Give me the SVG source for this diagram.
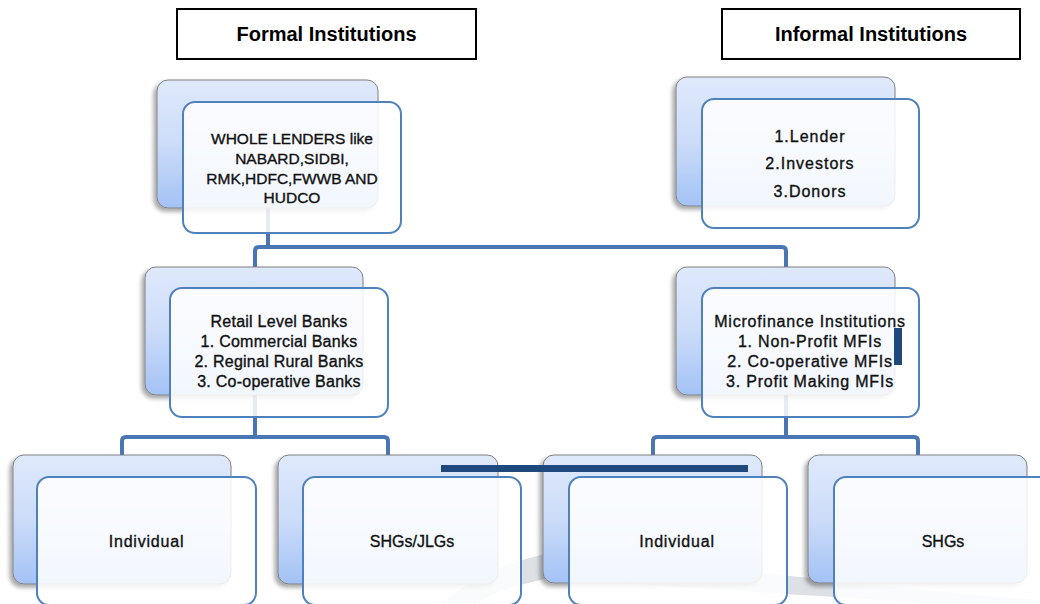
<svg xmlns="http://www.w3.org/2000/svg" width="1040" height="604" viewBox="0 0 1040 604">
<defs>
<linearGradient id="gb" x1="0" y1="0" x2="0" y2="1">
<stop offset="0" stop-color="#dfe9fb"/>
<stop offset="0.5" stop-color="#ccdcf9"/>
<stop offset="1" stop-color="#a3c2f5"/>
</linearGradient>
<filter id="sh" x="-10%" y="-10%" width="120%" height="125%">
<feDropShadow dx="-3" dy="3" stdDeviation="2" flood-color="#000" flood-opacity="0.35"/>
</filter>
<style>
.hdr{fill:#fff;stroke:#000;stroke-width:2}
.ht{font-family:"Liberation Sans",Arial,sans-serif;font-size:20px;font-weight:bold;fill:#000;text-anchor:middle}
.bk{fill:url(#gb);stroke:#808080;stroke-width:1;filter:url(#sh)}
.fr{fill:#fff;fill-opacity:0.86;stroke:#4f81bd;stroke-width:2}
.t{font-family:"Liberation Sans",Arial,sans-serif;font-size:16px;fill:#111;stroke:#111;stroke-width:0.35;text-anchor:middle}
.cn{fill:none;stroke:#4a77b3;stroke-width:4}
.bar{fill:#1f497d}
</style>
</defs>
<rect width="1040" height="604" fill="#fff"/>
<path d="M440,604 C470,580 505,562 550,553 L800,577 C880,586 960,594 1040,600 L1040,604 L930,604 C880,600 840,597 800,595 L550,578 C515,585 490,594 475,604 Z" fill="#dde1e6"/>

<g id="connectors">
<path class="cn" d="M268,208 V247"/>
<path class="cn" d="M255,267 V251 Q255,247 259,247 H782 Q786,247 786,251 V267"/>
<path class="cn" d="M255,395 V437"/>
<path class="cn" d="M122,455 V441 Q122,437 126,437 H384 Q388,437 388,441 V455"/>
<path class="cn" d="M786,395 V437"/>
<path class="cn" d="M653,455 V441 Q653,437 657,437 H914 Q918,437 918,441 V455"/>
</g>

<g id="formal-header">
<rect class="hdr" x="177" y="9" width="299" height="50"/>
<text class="ht" x="326.5" y="41">Formal Institutions</text>
</g>
<g id="informal-header">
<rect class="hdr" x="722" y="9" width="298" height="50"/>
<text class="ht" x="871" y="41">Informal Institutions</text>
</g>

<g id="whole-lenders">
<rect class="bk" x="157" y="80" width="221" height="128" rx="11"/>
<rect class="fr" x="183" y="102" width="218" height="131" rx="12"/>
<text class="t" x="292" y="144" style="font-size:15.5px">WHOLE LENDERS like</text>
<text class="t" x="292" y="164" style="font-size:15.5px">NABARD,SIDBI,</text>
<text class="t" x="292" y="184" style="font-size:15.5px">RMK,HDFC,FWWB AND</text>
<text class="t" x="292" y="203" style="font-size:15.5px">HUDCO</text>
</g>

<g id="informal-sources">
<rect class="bk" x="676" y="77" width="219" height="129" rx="11"/>
<rect class="fr" x="702" y="99" width="217" height="129" rx="12"/>
<text class="t" x="810" y="142" letter-spacing="1">1.Lender</text>
<text class="t" x="810" y="169" letter-spacing="1">2.Investors</text>
<text class="t" x="810" y="197" letter-spacing="1">3.Donors</text>
</g>

<g id="retail-banks">
<rect class="bk" x="145" y="267" width="218" height="128" rx="11"/>
<rect class="fr" x="170" y="288" width="218" height="129" rx="12"/>
<text class="t" x="279" y="327" letter-spacing="0.25">Retail Level Banks</text>
<text class="t" x="279" y="347" letter-spacing="0.25">1. Commercial Banks</text>
<text class="t" x="279" y="367" letter-spacing="0.25">2. Reginal Rural Banks</text>
<text class="t" x="279" y="387" letter-spacing="0.25">3. Co-operative Banks</text>
</g>

<g id="mfi">
<rect class="bk" x="676" y="267" width="219" height="128" rx="11"/>
<rect class="fr" x="702" y="288" width="217" height="129" rx="12"/>
<text class="t" x="810" y="327" letter-spacing="0.8">Microfinance Institutions</text>
<text class="t" x="810" y="347" letter-spacing="0.8">1. Non-Profit MFIs</text>
<text class="t" x="810" y="367" letter-spacing="0.8">2. Co-operative MFIs</text>
<text class="t" x="810" y="387" letter-spacing="0.8">3. Profit Making MFIs</text>
</g>

<g id="formal-individual">
<rect class="bk" x="13" y="455" width="218" height="129" rx="11"/>
<rect class="fr" x="37" y="477" width="219" height="128" rx="12"/>
<text class="t" x="146.5" y="547" letter-spacing="0.8">Individual</text>
</g>

<g id="formal-shgs-jlgs">
<rect class="bk" x="278" y="455" width="220" height="129" rx="11"/>
<rect class="fr" x="303" y="477" width="218" height="128" rx="12"/>
<text class="t" x="412" y="547">SHGs/JLGs</text>
</g>

<g id="informal-individual">
<rect class="bk" x="543" y="455" width="219" height="128" rx="11"/>
<rect class="fr" x="569" y="477" width="218" height="128" rx="12"/>
<text class="t" x="677" y="547" letter-spacing="0.8">Individual</text>
</g>

<g id="informal-shgs">
<rect class="bk" x="808" y="455" width="219" height="128" rx="11"/>
<rect class="fr" x="834" y="477" width="218" height="128" rx="12"/>
<text class="t" x="943" y="547">SHGs</text>
</g>

<rect class="bar" x="441" y="465" width="307" height="7"/>
<rect class="bar" x="894" y="328" width="8" height="37"/>
</svg>
